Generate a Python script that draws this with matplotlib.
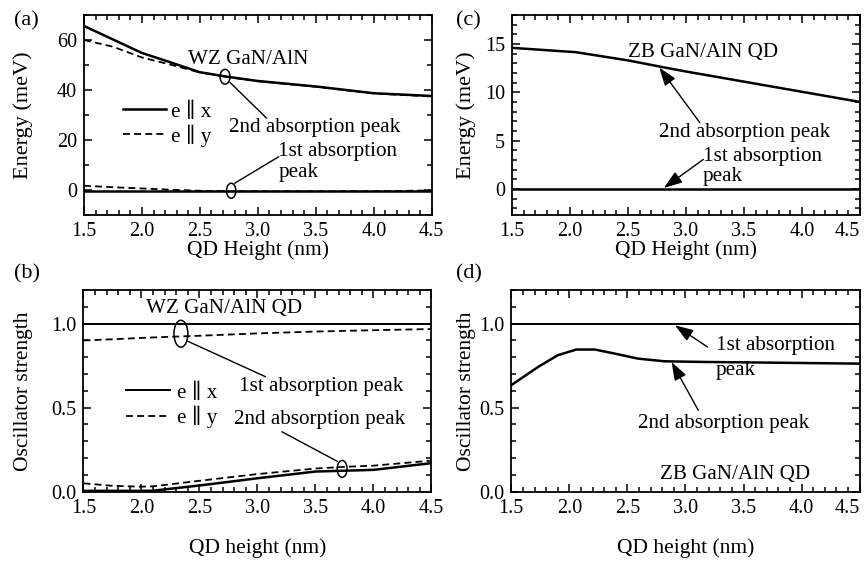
import matplotlib
matplotlib.use("Agg")
import matplotlib.pyplot as plt
from matplotlib.patches import Ellipse
from matplotlib.ticker import MultipleLocator, FormatStrFormatter

# ---- data ----
# (a) WZ energy vs height
a_height = [1.5, 1.75, 2.0, 2.25, 2.5, 2.75, 3.0, 3.5, 4.0, 4.5]
a_x_2nd = [65.6, 60.2, 54.8, 51.0, 47.1, 45.2, 43.6, 41.4, 38.7, 37.6]
a_y_2nd = [60.0, 57.3, 53.0, 50.1, 47.0, 45.1, 43.5, 41.3, 38.6, 37.4]
a_x_1st = [-0.6, -0.6, -0.6, -0.6, -0.6, -0.6, -0.6, -0.6, -0.6, -0.6]
a_y_1st = [1.7, 1.1, 0.6, 0.1, -0.3, -0.5, -0.5, -0.5, -0.5, -0.2]

# (b) WZ oscillator strength vs height
b_height = [1.5, 1.75, 2.0, 2.1, 2.5, 3.0, 3.5, 3.75, 4.0, 4.5]
b_x_1st = [1.0, 1.0, 1.0, 1.0, 1.0, 1.0, 1.0, 1.0, 1.0, 1.0]
b_y_1st = [0.90, 0.907, 0.915, 0.918, 0.928, 0.942, 0.953, 0.957, 0.961, 0.968]
b_x_2nd = [0.005, 0.005, 0.005, 0.006, 0.037, 0.08, 0.12, 0.125, 0.13, 0.17]
b_y_2nd = [0.05, 0.035, 0.03, 0.032, 0.065, 0.105, 0.138, 0.148, 0.155, 0.185]

# (c) ZB energy vs height
c_height = [1.5, 2.05, 2.5, 2.8, 3.0, 3.5, 4.0, 4.5]
c_2nd = [14.6, 14.15, 13.3, 12.6, 12.15, 11.1, 10.05, 9.0]
c_1st = [0, 0, 0, 0, 0, 0, 0, 0]

# (d) ZB oscillator strength vs height
d_height = [1.5, 1.73, 1.9, 2.06, 2.22, 2.39, 2.59, 2.82, 3.17, 3.74, 4.5]
d_2nd = [0.634, 0.742, 0.812, 0.846, 0.846, 0.822, 0.792, 0.776, 0.772, 0.768, 0.762]
d_1st = [1.0] * len(d_height)

x_ticks = [1.5, 2.0, 2.5, 3.0, 3.5, 4.0, 4.5]
legend_labels = ["e \u2225 x", "e \u2225 y"]

plt.rcParams["font.family"] = ["Liberation Serif", "DejaVu Serif"]
plt.rcParams["font.size"] = 14
plt.rcParams["lines.scale_dashes"] = False
plt.rcParams["axes.linewidth"] = 1.3

FS = 15.2      # annotation text
TFS = 14.5     # tick labels
LFS = 15.5     # axis labels
LW = 1.8
DASH = (5, 3)

fig = plt.figure(figsize=(8.66, 5.61), dpi=100)
ax_a = fig.add_axes([0.0970, 0.6168, 0.4015, 0.3565])
ax_c = fig.add_axes([0.5912, 0.6168, 0.4018, 0.3565])
ax_b = fig.add_axes([0.0964, 0.1235, 0.4018, 0.3595])
ax_d = fig.add_axes([0.5904, 0.1235, 0.4023, 0.3595])


def style_axes(ax, ymaj, ymin, yfmt, shift_last=False):
    ax.set_xlim(1.5, 4.5)
    ax.set_xticks(x_ticks)
    ax.xaxis.set_minor_locator(MultipleLocator(0.1))
    ax.xaxis.set_major_formatter(FormatStrFormatter("%.1f"))
    ax.yaxis.set_major_locator(MultipleLocator(ymaj))
    ax.yaxis.set_minor_locator(MultipleLocator(ymin))
    ax.yaxis.set_major_formatter(FormatStrFormatter(yfmt))
    ax.tick_params(which="both", direction="in", top=True, right=True,
                   width=1.1, labelsize=TFS)
    ax.tick_params(which="major", length=6, pad=5)
    ax.tick_params(which="minor", length=3.5)
    if shift_last:
        ax.get_xticklabels()[-1].set_horizontalalignment("right")


arrow = dict(arrowstyle="-|>,head_length=0.8,head_width=0.28", color="k",
             lw=1.0, mutation_scale=14, shrinkA=0, shrinkB=0)
leader = dict(arrowstyle="-", color="k", lw=1.0, shrinkA=0, shrinkB=0)

# ---- (a) ----
ax = ax_a
ax.plot(a_height, a_x_2nd, "k-", lw=LW, label=legend_labels[0])
ax.plot(a_height, a_y_2nd, "k--", lw=1.3, dashes=DASH, label=legend_labels[1])
ax.plot(a_height, a_x_1st, "k-", lw=LW)
ax.plot(a_height, a_y_1st, "k--", lw=1.3, dashes=DASH)
ax.set_ylim(-10, 70)
style_axes(ax, 20, 10, "%d")
ax.add_patch(Ellipse((2.717, 45.3), 0.086, 5.9, fill=False, lw=1.1))
ax.add_patch(Ellipse((2.77, -0.3), 0.08, 6.0, fill=False, lw=1.1))
ax.annotate("", xy=(2.76, 43.0), xytext=(3.076, 28.7), arrowprops=leader)
ax.annotate("", xy=(2.80, 2.7), xytext=(3.18, 13.3), arrowprops=leader)
ax.text(2.92, 52, "WZ GaN/AlN", fontsize=FS, ha="center", va="center")
ax.text(3.49, 24.8, "2nd absorption peak", fontsize=FS, ha="center", va="center")
ax.text(3.175, 15.3, "1st absorption", fontsize=FS, ha="left", va="center")
ax.text(3.175, 6.8, "peak", fontsize=FS, ha="left", va="center")
ax.legend(loc="upper left", bbox_to_anchor=(0.112, 0.565), frameon=False,
          borderpad=0, borderaxespad=0, handlelength=2.05, handletextpad=0.25,
          labelspacing=0.12, fontsize=FS)
ax.set_ylabel("Energy (meV)", fontsize=LFS + 0.5)
ax.set_xlabel("QD Height (nm)", fontsize=LFS)
ax.yaxis.set_label_coords(-0.147, 0.5)
ax.xaxis.set_label_coords(0.5, -0.125)

# ---- (b) ----
ax = ax_b
ax.plot(b_height, b_x_1st, "k-", lw=1.4, label=legend_labels[0])
ax.plot(b_height, b_y_1st, "k--", lw=1.3, dashes=DASH, label=legend_labels[1])
ax.plot(b_height, b_x_2nd, "k-", lw=LW)
ax.plot(b_height, b_y_2nd, "k--", lw=1.3, dashes=DASH)
ax.set_ylim(0, 1.2)
style_axes(ax, 0.5, 0.1, "%.1f")
ax.add_patch(Ellipse((2.34, 0.94), 0.12, 0.16, fill=False, lw=1.1))
ax.add_patch(Ellipse((3.73, 0.136), 0.086, 0.10, fill=False, lw=1.1))
ax.annotate("", xy=(2.40, 0.895), xytext=(3.07, 0.684), arrowprops=leader)
ax.annotate("", xy=(3.69, 0.18), xytext=(3.21, 0.357), arrowprops=leader)
ax.text(2.715, 1.089, "WZ GaN/AlN QD", fontsize=FS, ha="center", va="center")
ax.text(3.55, 0.624, "1st absorption peak", fontsize=FS, ha="center", va="center")
ax.text(3.54, 0.427, "2nd absorption peak", fontsize=FS, ha="center", va="center")
ax.legend(loc="upper left", bbox_to_anchor=(0.122, 0.54), frameon=False,
          borderpad=0, borderaxespad=0, handlelength=2.1, handletextpad=0.3,
          labelspacing=0.15, fontsize=FS)
ax.set_ylabel("Oscillator strength", fontsize=LFS)
ax.set_xlabel("QD height (nm)", fontsize=LFS)
ax.yaxis.set_label_coords(-0.145, 0.5)
ax.xaxis.set_label_coords(0.5, -0.232)

# ---- (c) ----
ax = ax_c
ax.plot(c_height, c_2nd, "k-", lw=LW)
ax.plot(c_height, c_1st, "k-", lw=LW)
ax.set_ylim(-2.7, 18)
style_axes(ax, 5, 1, "%d", shift_last=True)
ax.annotate("", xy=(2.77, 12.56), xytext=(3.12, 6.85), arrowprops=arrow)
ax.annotate("", xy=(2.81, 0.1), xytext=(3.15, 3.05), arrowprops=arrow)
ax.text(3.15, 14.1, "ZB GaN/AlN QD", fontsize=FS, ha="center", va="center")
ax.text(3.51, 5.8, "2nd absorption peak", fontsize=FS, ha="center", va="center")
ax.text(3.15, 3.4, "1st absorption", fontsize=FS, ha="left", va="center")
ax.text(3.14, 1.3, "peak", fontsize=FS, ha="left", va="center")
ax.set_ylabel("Energy (meV)", fontsize=LFS + 0.5)
ax.set_xlabel("QD Height (nm)", fontsize=LFS)
ax.yaxis.set_label_coords(-0.103, 0.5)
ax.xaxis.set_label_coords(0.5, -0.125)

# ---- (d) ----
ax = ax_d
ax.plot(d_height, d_1st, "k-", lw=1.4)
ax.plot(d_height, d_2nd, "k-", lw=LW)
ax.set_ylim(0, 1.2)
style_axes(ax, 0.5, 0.1, "%.1f", shift_last=True)
ax.annotate("", xy=(2.91, 0.99), xytext=(3.19, 0.861), arrowprops=arrow)
ax.annotate("", xy=(2.88, 0.772), xytext=(3.11, 0.485), arrowprops=arrow)
ax.text(3.26, 0.871, "1st absorption", fontsize=FS, ha="left", va="center")
ax.text(3.26, 0.723, "peak", fontsize=FS, ha="left", va="center")
ax.text(3.33, 0.406, "2nd absorption peak", fontsize=FS, ha="center", va="center")
ax.text(3.43, 0.105, "ZB GaN/AlN QD", fontsize=FS, ha="center", va="center")
ax.set_ylabel("Oscillator strength", fontsize=LFS)
ax.set_xlabel("QD height (nm)", fontsize=LFS)
ax.yaxis.set_label_coords(-0.101, 0.5)
ax.xaxis.set_label_coords(0.5, -0.232)

# panel letters
for lbl, (px, py) in zip(["(a)", "(b)", "(c)", "(d)"],
                         [(0.016, 0.962), (0.016, 0.512), (0.527, 0.962), (0.527, 0.512)]):
    fig.text(px, py, lbl, fontsize=16, ha="left", va="center")

fig.savefig("out.png", dpi=100)
plt.close(fig)
